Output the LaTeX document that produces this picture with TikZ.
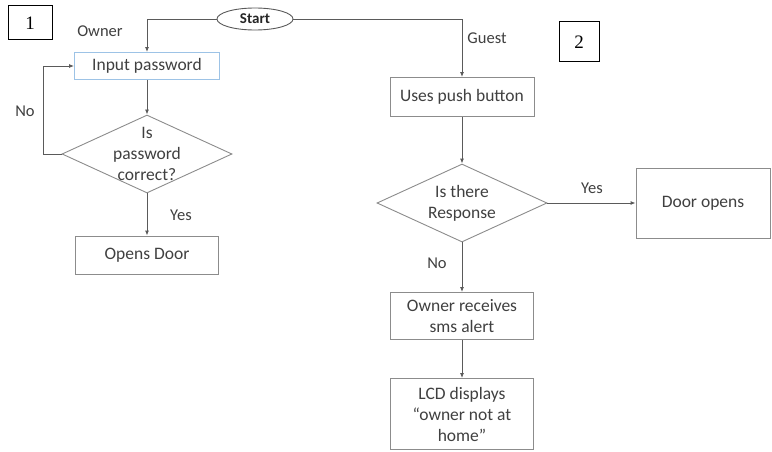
\documentclass[tikz,border=0pt]{standalone}
\usepackage{fontspec}
\setmainfont{Carlito}
\newfontfamily\numfont{Liberation Serif}
\usetikzlibrary{shapes.geometric,arrows.meta}
\definecolor{txt}{HTML}{404040}
\definecolor{ln}{HTML}{5A5A5A}
\definecolor{bx}{HTML}{8C8C8C}
\definecolor{bluebx}{HTML}{9DC3E6}
\tikzset{
  procbox/.style={draw=bx, line width=0.9pt, rectangle, inner sep=0pt, align=center, text=txt, font=\fontsize{17.5}{21}\selectfont},
  decision/.style={draw=bx, line width=0.9pt, diamond, inner sep=0pt, minimum width=170pt, minimum height=78pt},
  dtext/.style={align=center, text=txt, inner sep=0pt, font=\fontsize{17.5}{21}\selectfont},
  startnode/.style={draw=ln, line width=0.9pt, ellipse, minimum width=76pt, minimum height=22pt, inner sep=0pt, font=\bfseries\fontsize{15}{18}\selectfont, text=black!85},
  numbox/.style={draw=black, line width=1pt, minimum width=44pt, minimum height=34pt, inner sep=0pt, font=\numfont\fontsize{19}{22}\selectfont},
  lbl/.style={text=txt, font=\fontsize{16.5}{19}\selectfont, inner sep=0pt},
  conn/.style={draw=ln, line width=0.9pt, -{Latex[length=5pt,width=4pt]}}
}
\begin{document}
\begin{tikzpicture}[x=1pt,y=-1pt]
\useasboundingbox[fill=white] (0,0) rectangle (772,452);
% number boxes
\node[numbox] (n1) at (30,23) {1};
\node[numbox, minimum width=40pt, minimum height=40pt] (n2) at (579,42) {2};
% start
\node[startnode] (start) at (255,19) {Start};
% owner branch
\node[procbox, draw=bluebx, minimum width=145pt, minimum height=27pt] (inp) at (147,66) {Input password};
\node[decision] (pw) at (147,154) {};
\node[dtext] (pwt) at (147,154) {Is\\password\\correct?};
\node[procbox, minimum width=143pt, minimum height=38pt] (od) at (147,255) {Opens Door};
% guest branch
\node[procbox, minimum width=144pt, minimum height=39pt] (push) at (462,97) {Uses push button};
\node[decision] (resp) at (462,203) {};
\node[dtext] (respt) at (462,203) {Is there\\Response};
\node[procbox, minimum width=134pt, minimum height=70pt] (door) at (703,203) {Door opens};
\node[procbox, minimum width=143pt, minimum height=47pt] (sms) at (462,316) {Owner receives\\sms alert};
\node[procbox, minimum width=143pt, minimum height=71pt] (lcd) at (462,414) {LCD displays\\\textquotedblleft owner not at\\home\textquotedblright};
% connectors
\coordinate (ocorner) at (147,19);
\coordinate (gcorner) at (462,19);
\draw[conn] (start.west) -- (ocorner) -- (inp.north);
\draw[conn] (start.east) -- (gcorner) -- (push.north);
\draw[conn] (inp.south) -- (pw.north);
\coordinate (nol) at (43,154);
\coordinate (nou) at (43,66);
\draw[conn] (pw.west) -- (nol) -- (nou) -- (inp.west);
\draw[conn] (pw.south) -- (od.north);
\draw[conn] (push.south) -- (resp.north);
\draw[conn] (resp.east) -- (door.west);
\draw[conn] (resp.south) -- (sms.north);
\draw[conn] (sms.south) -- (lcd.north);
% labels
\node[lbl] (lowner) at (100,31) {Owner};
\node[lbl] (lguest) at (487,38) {Guest};
\node[lbl] (lno1) at (25,111) {No};
\node[lbl] (lyes1) at (181,215) {Yes};
\node[lbl] (lyes2) at (592,188) {Yes};
\node[lbl] (lno2) at (437,263) {No};
\end{tikzpicture}
\end{document}
